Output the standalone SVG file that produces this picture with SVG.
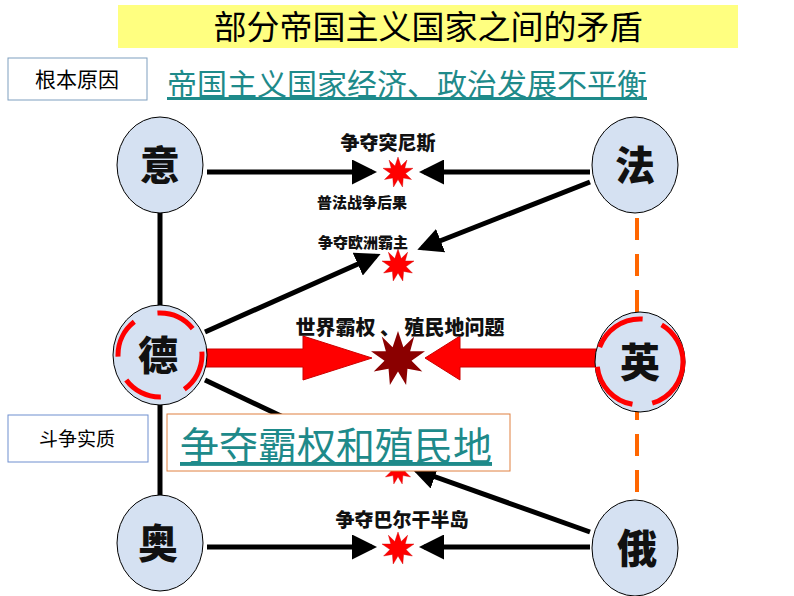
<svg xmlns="http://www.w3.org/2000/svg" width="794" height="596" viewBox="0 0 794 596">
<style>
.n{fill:#d5e1f2;stroke:#000;stroke-width:1}
.nt{font-family:"Noto Sans CJK SC",sans-serif;font-weight:900;font-size:40px;text-anchor:middle;fill:#111}
.lb{font-family:"Noto Sans CJK SC",sans-serif;font-weight:900;fill:#111;text-anchor:middle}
.ln{stroke:#000;stroke-width:5;fill:none}
.st{fill:#ff0000;stroke:#c00;stroke-width:0.5}
.link{font-family:"Noto Sans CJK SC",sans-serif;fill:#1e8a8a;text-decoration:underline}
</style>
<defs>
<marker id="ah" markerWidth="5" markerHeight="5" refX="4" refY="2.5" orient="auto"><path d="M0,0L5,2.5L0,5z" fill="#000"/></marker>
<polygon id="star" points="0,-20 4,-8 12,-16 9,-5 20,-5 10,2 18,10 7,8 6,20 0,10 -6,20 -7,8 -18,10 -10,2 -20,-5 -9,-5 -12,-16 -4,-8"/>
</defs>
<rect x="118" y="5" width="620" height="43" fill="#ffff80"/>
<text x="428" y="39" font-family="Noto Sans CJK SC,sans-serif" font-size="33" text-anchor="middle">部分帝国主义国家之间的矛盾</text>
<rect x="8" y="58" width="139" height="42" fill="#fff" stroke="#7f9fbf"/>
<text x="77" y="87" font-family="Noto Sans CJK SC,sans-serif" font-size="21" text-anchor="middle">根本原因</text>
<text x="167" y="95" class="link" font-size="30">帝国主义国家经济、政治发展不平衡</text>
<g id="connectors">
<line x1="160" y1="212" x2="160" y2="308" class="ln"/>
<line x1="160" y1="405" x2="160" y2="495" class="ln"/>
<line x1="637" y1="218" x2="637" y2="505" stroke="#ff6600" stroke-width="4" stroke-dasharray="22,14"/>
<line x1="207" y1="172" x2="372" y2="172" class="ln" marker-end="url(#ah)"/>
<line x1="590" y1="172" x2="424" y2="172" class="ln" marker-end="url(#ah)"/>
<line x1="590" y1="182" x2="422" y2="248" class="ln" marker-end="url(#ah)"/>
<line x1="205" y1="332" x2="376" y2="256" class="ln" marker-end="url(#ah)"/>
<line x1="205" y1="380" x2="300" y2="425" class="ln"/>
<line x1="590" y1="532" x2="416" y2="470" class="ln" marker-end="url(#ah)"/>
<line x1="207" y1="547" x2="372" y2="547" class="ln" marker-end="url(#ah)"/>
<line x1="590" y1="547" x2="424" y2="547" class="ln" marker-end="url(#ah)"/>
<path d="M205,349H303V336L372,358L303,380V367H205Z" fill="#ff0000" stroke="#c00"/>
<path d="M597,349H460V336L425,358L460,380V367H597Z" fill="#ff0000" stroke="#c00"/>
</g>
<use href="#star" class="st" transform="translate(398,172) scale(0.75)"/>
<use href="#star" class="st" transform="translate(398,265) scale(0.8)"/>
<use href="#star" fill="#8b0000" transform="translate(398,358) scale(1.35)"/>
<use href="#star" class="st" transform="translate(398,470) scale(0.7)"/>
<use href="#star" class="st" transform="translate(398,548) scale(0.8)"/>
<text x="388" y="150" class="lb" font-size="19">争夺突尼斯</text>
<text x="362" y="208" class="lb" font-size="15">普法战争后果</text>
<text x="363" y="248" class="lb" font-size="15">争夺欧洲霸主</text>
<text x="400" y="335" class="lb" font-size="20">世界霸权 、 殖民地问题</text>
<text x="402" y="527" class="lb" font-size="19">争夺巴尔干半岛</text>
<g id="yi"><ellipse cx="160" cy="165" rx="43" ry="48" class="n"/><text x="160" y="180" class="nt">意</text></g>
<g id="fa"><ellipse cx="635" cy="165" rx="43" ry="48" class="n"/><text x="635" y="180" class="nt">法</text></g>
<g id="de"><ellipse cx="160" cy="355" rx="47" ry="50" class="n"/><circle cx="160" cy="355" r="42" fill="none" stroke="#ff0000" stroke-width="5" stroke-dasharray="40,25"/><text x="158" y="370" class="nt">德</text></g>
<g id="ying"><ellipse cx="640" cy="362" rx="45" ry="50" class="n"/><circle cx="640" cy="362" r="43" fill="none" stroke="#ff0000" stroke-width="5" stroke-dasharray="55,20"/><text x="640" y="377" class="nt">英</text></g>
<g id="ao"><ellipse cx="160" cy="543" rx="43" ry="48" class="n"/><text x="158" y="558" class="nt">奥</text></g>
<g id="e"><ellipse cx="635" cy="548" rx="43" ry="48" class="n"/><text x="637" y="563" class="nt">俄</text></g>
<rect x="8" y="415" width="140" height="47" fill="#fff" stroke="#6f8fcf"/>
<text x="77" y="446" font-family="Noto Sans CJK SC,sans-serif" font-size="19" text-anchor="middle">斗争实质</text>
<rect x="167" y="414" width="343" height="57" fill="#fff" stroke="#e08040"/>
<text x="180" y="460" class="link" font-size="39">争夺霸权和殖民地</text>
</svg>
